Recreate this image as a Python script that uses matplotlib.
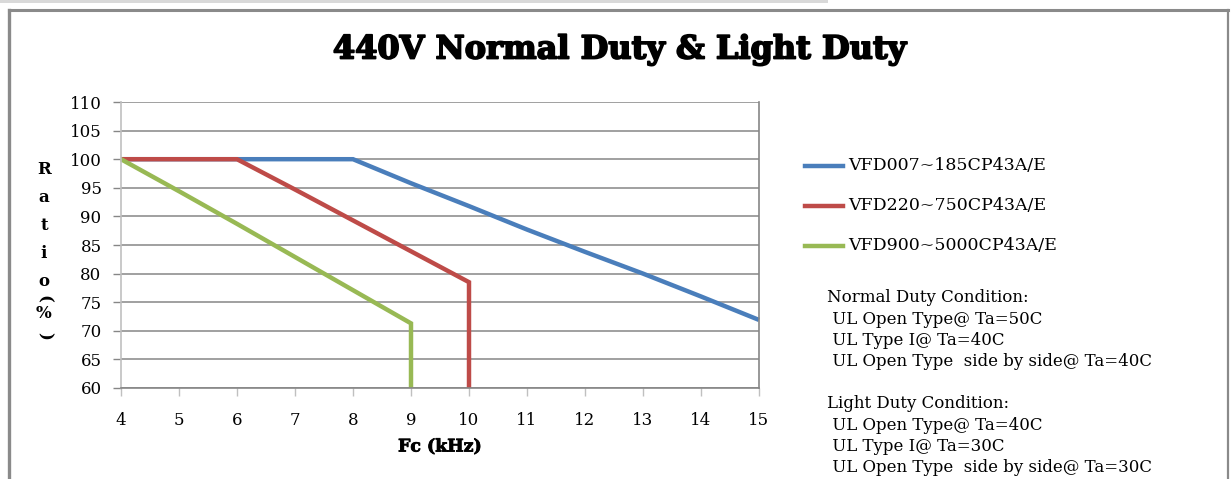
import matplotlib
matplotlib.use("Agg")
import matplotlib.pyplot as plt
import matplotlib.patheffects as pe
from matplotlib.lines import Line2D
from matplotlib.patches import Rectangle

# Carrier frequency (kHz) vs. output current ratio (%)
freq_small = [4, 8, 9, 10, 11, 12, 13, 14, 15]
ratio_small = [100, 100, 95.8, 91.8, 87.7, 83.8, 80.0, 76.0, 71.9]

freq_mid = [4, 6, 7, 8, 9, 10, 10]
ratio_mid = [100, 100, 94.7, 89.3, 83.9, 78.5, 60]

freq_large = [4, 5, 6, 7, 8, 9, 9]
ratio_large = [100, 94.4, 88.7, 82.9, 77.1, 71.3, 60]

series_names = ["VFD007~185CP43A/E", "VFD220~750CP43A/E", "VFD900~5000CP43A/E"]
series_colors = ["#4a7ebb", "#be4b48", "#98b954"]

x_ticks = list(range(4, 16))
y_ticks = list(range(60, 111, 5))

title = "440V Normal Duty & Light Duty"
x_label = "Fc (kHz)"
notes = [
    "Normal Duty Condition:",
    " UL Open Type@ Ta=50C",
    " UL Type I@ Ta=40C",
    " UL Open Type  side by side@ Ta=40C",
    "",
    "Light Duty Condition:",
    " UL Open Type@ Ta=40C",
    " UL Type I@ Ta=30C",
    " UL Open Type  side by side@ Ta=30C",
]

W, H = 1231, 479
fig = plt.figure(figsize=(W / 100, H / 100), dpi=100)
fig.patch.set_facecolor("white")

def fx(px):
    return px / W

def fy(py):
    return 1 - py / H

serif = "DejaVu Serif"

# page strip and chart frame
fig.add_artist(Rectangle((0, fy(3)), fx(828), 3 / H, transform=fig.transFigure,
                         facecolor="#d9d9d9", edgecolor="none"))
frame_c = "#8a8a8a"
fig.add_artist(Line2D([fx(9), fx(1228)], [fy(10), fy(10)], transform=fig.transFigure,
                      color=frame_c, lw=2.2))
fig.add_artist(Line2D([fx(9), fx(9)], [fy(10), fy(479)], transform=fig.transFigure,
                      color=frame_c, lw=2.4))
fig.add_artist(Line2D([fx(1228), fx(1228)], [fy(10), fy(479)], transform=fig.transFigure,
                      color=frame_c, lw=1.6))

# plot area
left, right, top, bottom = 121, 759, 102, 388
ax = fig.add_axes([fx(left), fy(bottom), fx(right - left), (bottom - top) / H])
ax.set_xlim(4, 15)
ax.set_ylim(60, 110)
ax.set_xticks(x_ticks)
ax.set_yticks(y_ticks)
ax.yaxis.grid(True, color="#868686", lw=1.1)
ax.set_axisbelow(True)
ax.spines["top"].set_visible(False)
ax.spines["left"].set_color("#c0c0c0")
ax.spines["left"].set_linewidth(1.2)
ax.spines["right"].set_color("#868686")
ax.spines["right"].set_linewidth(1.2)
ax.spines["bottom"].set_color("#868686")
ax.spines["bottom"].set_linewidth(1.2)
ax.tick_params(axis="y", direction="out", length=6, width=1.0, color="#868686",
               labelsize=12, pad=8)
ax.tick_params(axis="x", direction="out", length=6, width=1.0, color="#c0c0c0",
               labelsize=12, pad=11)
for lab in ax.get_xticklabels() + ax.get_yticklabels():
    lab.set_fontfamily(serif)

series = [(freq_small, ratio_small), (freq_mid, ratio_mid), (freq_large, ratio_large)]
for (xs, ys), name, c in zip(series, series_names, series_colors):
    ax.plot(xs, ys, color=c, lw=3.2, label=name, solid_joinstyle="miter",
            solid_capstyle="butt", clip_on=False)

# legend drawn as line + text rows
leg_y = [166, 206, 246]
for yy, name, c in zip(leg_y, series_names, series_colors):
    fig.add_artist(Line2D([fx(805), fx(843)], [fy(yy), fy(yy)], transform=fig.transFigure,
                          color=c, lw=3.2))
    fig.text(fx(848), fy(yy), name, family=serif, fontsize=12.5, va="center", ha="left")

# conditions text block
for i, line in enumerate(notes):
    if line:
        fig.text(fx(827), fy(298 + i * 21.2), line, family=serif, fontsize=12,
                 va="center", ha="left")

# title and axis labels
bold_fx = [pe.withStroke(linewidth=1.3, foreground="black")]
fig.text(fx(620), fy(50), title, family=serif, fontsize=23, fontweight="heavy",
         ha="center", va="center", path_effects=bold_fx)
fig.text(fx(440), fy(447), x_label, family=serif, fontsize=12.5, fontweight="bold",
         ha="center", va="center",
         path_effects=[pe.withStroke(linewidth=0.6, foreground="black")])

ylab = [("R", 170, 0), ("a", 198, 0), ("t", 226, 0), ("i", 254, 0), ("o", 282, 0),
        ("(", 299, -90), ("%", 313, 0), (")", 336, -90)]
for ch, yy, rot in ylab:
    fig.text(fx(44), fy(yy), ch, family=serif, fontsize=12, fontweight="bold",
             ha="center", va="center", rotation=rot)

fig.savefig("out.png", dpi=100, facecolor="white")
